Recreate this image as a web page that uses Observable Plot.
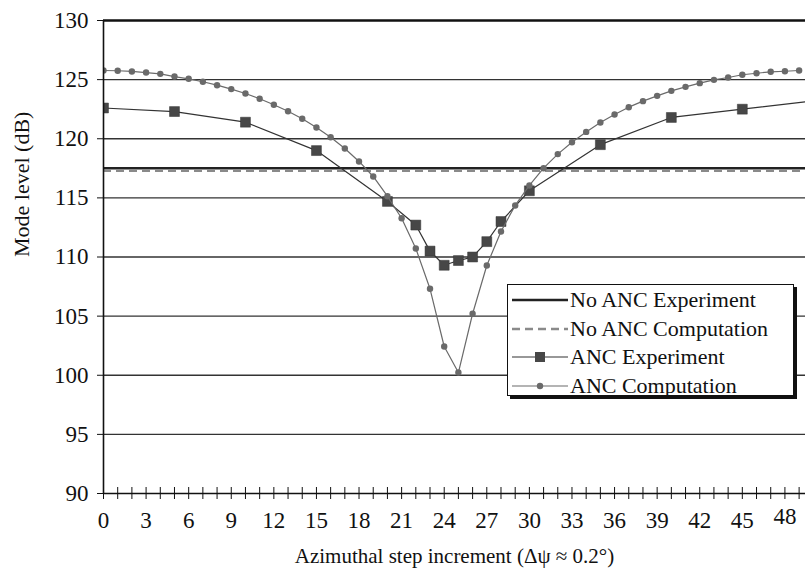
<!DOCTYPE html>
<html>
<head>
<meta charset="utf-8">
<script src="https://cdn.jsdelivr.net/npm/d3@7"></script>
<script src="https://cdn.jsdelivr.net/npm/@observablehq/plot@0.6"></script>
<style>
  html, body { margin: 0; padding: 0; background: #fff; }
  #wrap { position: relative; width: 805px; height: 574px; font-family: 'Liberation Serif', 'Times New Roman', Times, 'DejaVu Serif', serif; }
  #legend { position: absolute; left: 507px; top: 284px; width: 285px; height: 110px; background: #fff;
            border: 1px solid #111; box-shadow: 3px 3px 0 #111; font-size: 22px; color: #111; }
  #legend .row { position: absolute; left: 4px; height: 28px; display: flex; align-items: center; white-space: nowrap; }
  #legend svg { display: block; margin-right: 1px; }
</style>
</head>
<body>
<div id="wrap"></div>
<script>
// ---- data ----
const noAncExperiment = 117.5;
const noAncComputation = 117.3;

const ancExpSteps = [0, 5, 10, 15, 20, 22, 23, 24, 25, 26, 27, 28, 30, 35, 40, 45, 50];
const ancExpValues = [122.6, 122.3, 121.4, 119.0, 114.7, 112.7, 110.5, 109.3, 109.7, 110.0, 111.3, 113.0, 115.6, 119.5, 121.8, 122.5, 123.2];

const ancCompSteps = d3.range(0, 50);
const ancCompValues = [
  125.77, 125.75, 125.69, 125.6, 125.49, 125.26, 125.07, 124.82, 124.53, 124.2,
  123.83, 123.38, 122.87, 122.33, 121.69, 120.95, 120.13, 119.18, 118.08, 116.81,
  115.14, 113.28, 110.72, 107.31, 102.43, 100.23, 105.2, 109.28, 112.16, 114.36,
  116.05, 117.51, 118.7, 119.71, 120.58, 121.37, 122.05, 122.67, 123.18, 123.63,
  124.05, 124.39, 124.7, 124.98, 125.18, 125.41, 125.54, 125.66, 125.71, 125.77
];

const yTicks = [90, 95, 100, 105, 110, 115, 120, 125, 130];
const gridTicks = [95, 100, 105, 110, 115, 120, 125];
const xMinorTicks = d3.range(0, 50);
const xLabelTicks = [0, 3, 6, 9, 12, 15, 18, 21, 24, 27, 30, 33, 36, 39, 42, 45];
const xLabelTicksLast = [48];

const xTitle = "Azimuthal step increment (\u0394\u03C8 \u2248 0.2\u00B0)";
const yTitle = "Mode level (dB)";
const legendLabels = ["No ANC Experiment", "No ANC Computation", "ANC Experiment", "ANC Computation"];

// ---- tables ----
const ancExp = ancExpSteps.map((s, i) => ({step: s, value: ancExpValues[i]}));
const ancComp = ancCompSteps.map((s, i) => ({step: s, value: ancCompValues[i]}));

const font = "'Liberation Serif', 'Times New Roman', Times, 'DejaVu Serif', serif";

const chart = Plot.plot({
  width: 805,
  height: 574,
  marginLeft: 103,
  marginRight: 0,
  marginTop: 20,
  marginBottom: 81,
  style: {fontFamily: font, fontSize: "22px", color: "#111", background: "#fff", overflow: "visible"},
  x: {domain: [0, 49.45]},
  y: {domain: [90, 130]},
  marks: [
    Plot.ruleY(gridTicks, {stroke: "#333", strokeWidth: 1.3}),
    Plot.ruleY([130], {stroke: "#111", strokeWidth: 2.6}),
    Plot.ruleY([noAncExperiment], {stroke: "#222", strokeWidth: 2.4}),
    Plot.ruleY([noAncComputation], {stroke: "#8a8a8a", strokeWidth: 2.4, strokeDasharray: "8,5"}),
    Plot.line(ancExp, {x: "step", y: "value", stroke: "#333", strokeWidth: 1.2, clip: true}),
    Plot.dot(ancExp, {x: "step", y: "value", symbol: "square", r: 5.6, fill: "#474747", stroke: "#333", strokeWidth: 0.5, clip: true}),
    Plot.line(ancComp, {x: "step", y: "value", stroke: "#6a6a6a", strokeWidth: 1.2, clip: true}),
    Plot.dot(ancComp, {x: "step", y: "value", r: 3.2, fill: "#6a6a6a", stroke: "none", clip: true}),
    Plot.ruleY([90], {stroke: "#111", strokeWidth: 1.6}),
    Plot.ruleX([0], {stroke: "#111", strokeWidth: 1.6}),
    // tick marks
    Plot.axisY({ticks: yTicks, tickSize: 6, tickFormat: () => "", stroke: "#111", label: null}),
    Plot.axisX({ticks: xMinorTicks, tickSize: 6, tickFormat: () => "", stroke: "#111", label: null}),
    Plot.axisX({ticks: xMinorTicks, tickSize: 6, dy: -6, tickFormat: () => "", stroke: "#111", label: null}),
    // tick labels as text marks
    Plot.text(yTicks, {y: d => d, frameAnchor: "left", dx: -15, textAnchor: "end", text: d => String(d),
                       fontSize: 23, fill: "#111"}),
    Plot.text(xLabelTicks, {x: d => d, frameAnchor: "bottom", dy: 34, text: d => String(d),
                            fontSize: 23, fill: "#111"}),
    Plot.text(xLabelTicksLast, {x: d => d, frameAnchor: "bottom", dy: 30, text: d => String(d),
                                fontSize: 23, fill: "#111"}),
    // axis titles
    Plot.text([xTitle], {frameAnchor: "bottom", dy: 69, text: d => d, fontSize: 21, fill: "#111"}),
    Plot.text([yTitle], {frameAnchor: "left", dx: -82, rotate: -90, text: d => d, fontSize: 22, fill: "#111"})
  ]
});

const wrap = document.getElementById("wrap");
wrap.appendChild(chart);

// ---- legend ----
const legend = document.createElement("div");
legend.id = "legend";
const rowsTop = [1, 30, 58, 87];
const samples = [
  '<line x1="0" y1="8" x2="56" y2="8" stroke="#222" stroke-width="2.4"/>',
  '<line x1="0" y1="8" x2="56" y2="8" stroke="#8a8a8a" stroke-width="2.4" stroke-dasharray="8,5"/>',
  '<line x1="0" y1="8" x2="56" y2="8" stroke="#333" stroke-width="1.2"/><rect x="23" y="3" width="10" height="10" fill="#474747"/>',
  '<line x1="0" y1="8" x2="56" y2="8" stroke="#6a6a6a" stroke-width="1.2"/><circle cx="28" cy="8" r="3.2" fill="#6a6a6a"/>'
];
legendLabels.forEach((lab, i) => {
  const row = document.createElement("div");
  row.className = "row";
  row.style.top = rowsTop[i] + "px";
  row.innerHTML = `<svg width="57" height="16">${samples[i]}</svg><span>${lab}</span>`;
  legend.appendChild(row);
});
wrap.appendChild(legend);
</script>
</body>
</html>
